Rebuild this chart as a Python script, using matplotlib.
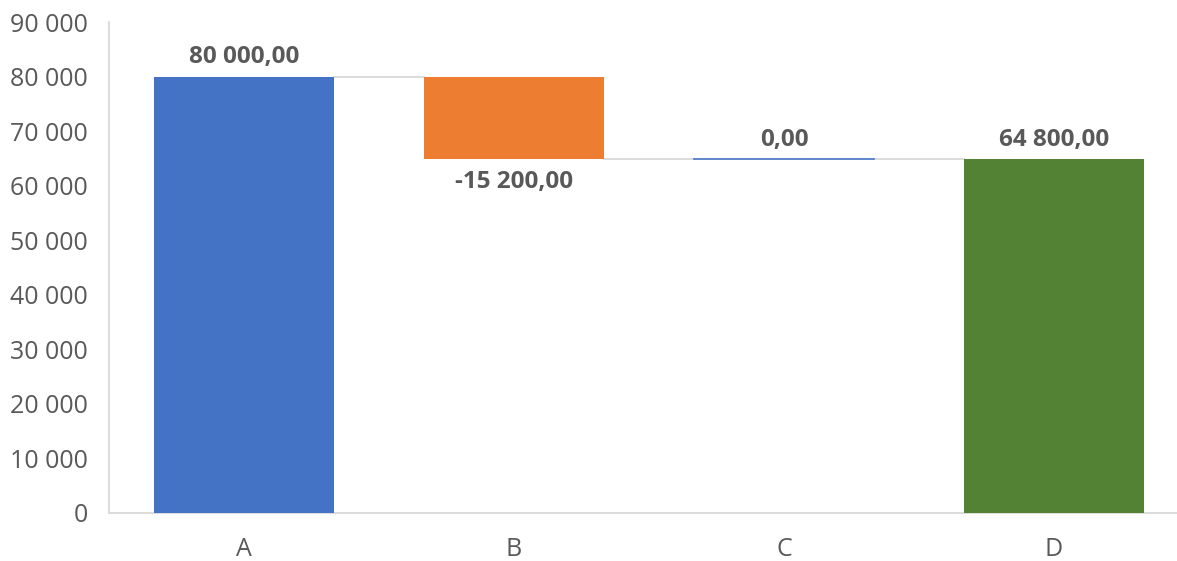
import matplotlib.pyplot as plt

# Waterfall data
categories = ['A', 'B', 'C', 'D']
changes = [80000, -15200, 0, 64800]
is_total = [False, False, False, True]
bar_colors = ['#4472C4', '#ED7D31', '#4472C4', '#548235']
y_ticks = [0, 10000, 20000, 30000, 40000, 50000, 60000, 70000, 80000, 90000]


def fmt_thousands(v, decimals=0):
    s = f"{abs(v):,.{decimals}f}".replace(',', ' ').replace('.', ',')
    return ('-' if v < 0 else '') + s


plt.rcParams['font.family'] = ['Open Sans', 'DejaVu Sans']

fig = plt.figure(figsize=(11.77, 5.61), dpi=100)
ax = fig.add_axes([109 / 1177, 48 / 561, 1068 / 1177, 491 / 561])

width = 0.667
running = 0
tops = []
for i, (cat, val, total) in enumerate(zip(categories, changes, is_total)):
    if total:
        bottom, height = 0, val
        running = val
    else:
        bottom = running if val >= 0 else running + val
        height = abs(val)
        running += val
    tops.append(running)
    if height == 0:
        ax.plot([i - width / 2, i + width / 2], [bottom, bottom],
                color=bar_colors[i], lw=1.2, zorder=3)
    else:
        ax.bar(i, height, bottom=bottom, width=width, color=bar_colors[i], zorder=3)
    label = fmt_thousands(val, 2)
    if val < 0:
        ax.text(i, bottom - 1900, label, ha='center', va='top', fontsize=17.5,
                fontweight='bold', color='#595959')
    else:
        ax.text(i, bottom + height + 1300, label, ha='center', va='bottom', fontsize=17.5,
                fontweight='bold', color='#595959')

# connector lines
for i in range(len(categories) - 1):
    ax.plot([i + width / 2, i + 1 - width / 2], [tops[i], tops[i]],
            color='#D9D9D9', lw=1.3, zorder=2)

ax.set_xlim(-0.5, 3.5 - 12 / 270)
ax.set_ylim(0, 90000)
ax.set_xticks(range(len(categories)))
ax.set_xticklabels(categories)
ax.set_yticks(y_ticks)
ax.set_yticklabels([fmt_thousands(v) for v in y_ticks])
ax.tick_params(axis='both', length=0, labelsize=18, colors='#595959')
ax.tick_params(axis='x', pad=17)
ax.tick_params(axis='y', pad=15)
for side in ['top', 'right']:
    ax.spines[side].set_visible(False)
for side in ['left', 'bottom']:
    ax.spines[side].set_color('#D9D9D9')
    ax.spines[side].set_linewidth(1.3)

fig.savefig('out.png', dpi=100)
